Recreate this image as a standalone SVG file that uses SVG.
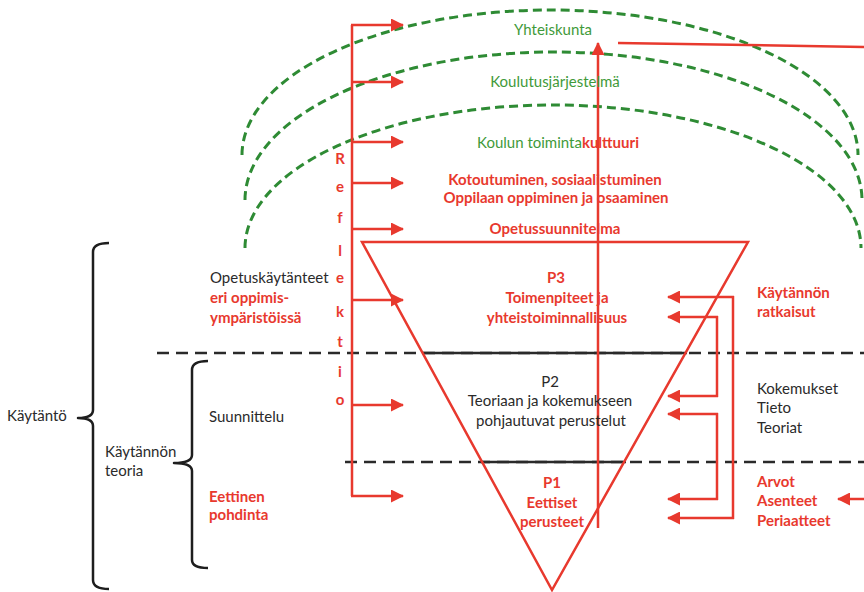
<svg xmlns="http://www.w3.org/2000/svg" width="864" height="592" viewBox="0 0 864 592">
  <style>
    .t { font-family: Lato, "Open Sans", "Liberation Sans", sans-serif; font-size: 15px; }
    .b { font-weight: bold; }
    .red { fill: #E8392E; }
    .grn { fill: #3F9A3A; }
    .blk { fill: #2A2A2A; }
    .arc { fill: none; stroke: #2E8B34; stroke-width: 3; stroke-dasharray: 9 5; }
    .rl { fill: none; stroke: #E8392E; stroke-width: 2.5; }
    .ra { fill: none; stroke: #E8392E; stroke-width: 2.5; marker-end: url(#ah); }
    .dash { fill: none; stroke: #2A2A2A; stroke-width: 2.5; stroke-dasharray: 12 7; }
    .solid { fill: none; stroke: #2A2A2A; stroke-width: 2.5; }
    .brace { fill: none; stroke: #1E1E1E; stroke-width: 2.5; stroke-linejoin: round; }
    .c { text-anchor: middle; }
  </style>
  <defs>
    <marker id="ah" viewBox="0 0 13 13" refX="12" refY="6.5" markerWidth="13" markerHeight="13" markerUnits="userSpaceOnUse" orient="auto">
      <path d="M0 0 L13 6.5 L0 13 Z" fill="#E8392E"/>
    </marker>
  </defs>

  <rect width="864" height="592" fill="#FFFFFF"/>

  <!-- nested spheres: society, school system, school culture -->
  <g id="spheres">
    <path class="arc" d="M242 155 A308 145 0 0 1 858 155"/>
    <path class="arc" d="M245 200 A308.5 148 0 0 1 862 200"/>
    <path class="arc" d="M245 248 A308 143 0 0 1 861 248"/>
  </g>

  <!-- level separators -->
  <g id="levels">
    <path class="dash" d="M157 353 H864"/>
    <path class="solid" d="M422 353 H687"/>
    <path class="dash" d="M345 462 H864"/>
    <path class="solid" d="M481 462 H626"/>
  </g>

  <!-- practice pyramid -->
  <g id="pyramid">
    <path class="rl" d="M362 242 H748 L552 590 Z" stroke-linejoin="miter"/>
  </g>

  <!-- left braces -->
  <g id="braces">
    <path class="brace" d="M109 243 Q93 243 93 252 V410 Q93 418 78 418 Q93 418 93 426 V580 Q93 589 109 589"/>
    <path class="brace" d="M208 361 Q192 361 192 370 V455 Q192 463 174 463 Q192 463 192 471 V560 Q192 568 208 568"/>
  </g>

  <g id="connectors">
    <!-- reflection spine with branches -->
    <path class="rl" d="M352 25 V496"/>
    <path class="ra" d="M351 25 H403"/>
    <path class="ra" d="M352 82 H403"/>
    <path class="ra" d="M352 142 H403"/>
    <path class="ra" d="M352 183 H403"/>
    <path class="ra" d="M352 229 H403"/>
    <path class="ra" d="M352 300 H403"/>
    <path class="ra" d="M352 405 H403"/>
    <path class="ra" d="M351 496 H403"/>
    <!-- central upward arrow -->
    <path class="ra" d="M598 528 V43"/>
    <path class="rl" d="M618 43 L864 47"/>
    <!-- right-side feedback arrows -->
    <path class="rl" d="M733 296 V519"/>
    <path class="ra" d="M734 297 H668"/>
    <path class="ra" d="M734 518 H668"/>
    <path class="rl" d="M717 316 V397"/>
    <path class="ra" d="M718 317 H668"/>
    <path class="ra" d="M718 396 H668"/>
    <path class="rl" d="M717 413 V500"/>
    <path class="ra" d="M718 414 H668"/>
    <path class="ra" d="M718 499 H668"/>
    <path class="ra" d="M864 499 H838"/>
  </g>

  <g id="sphere-labels">
    <text class="t grn c" x="553" y="35">Yhteiskunta</text>
    <text class="t grn c" x="555" y="87">Koulutusjärjestelmä</text>
    <text class="t grn c" x="558" y="148">Koulun toiminta<tspan class="red b">kulttuuri</tspan></text>
    <text class="t red b c" x="555" y="185">Kotoutuminen, sosiaalistuminen</text>
    <text class="t red b c" x="556" y="203">Oppilaan oppiminen ja osaaminen</text>
    <text class="t red b c" x="555" y="234">Opetussuunnitelma</text>
  </g>

  <g id="reflection-label">
    <text class="t red b c" x="340" y="164">R</text>
    <text class="t red b c" x="340" y="192">e</text>
    <text class="t red b c" x="340" y="223">f</text>
    <text class="t red b c" x="340" y="256">l</text>
    <text class="t red b c" x="340" y="283">e</text>
    <text class="t red b c" x="340" y="317">k</text>
    <text class="t red b c" x="340" y="347">t</text>
    <text class="t red b c" x="340" y="377">i</text>
    <text class="t red b c" x="340" y="405">o</text>
  </g>

  <g id="p3">
    <text class="t red b c" x="556" y="283">P3</text>
    <text class="t red b c" x="557" y="303">Toimenpiteet ja</text>
    <text class="t red b c" x="557" y="323">yhteistoiminnallisuus</text>
  </g>
  <g id="p2">
    <text class="t blk c" x="550" y="387">P2</text>
    <text class="t blk c" x="550" y="406">Teoriaan ja kokemukseen</text>
    <text class="t blk c" x="551" y="426">pohjautuvat perustelut</text>
  </g>
  <g id="p1">
    <text class="t red b c" x="552" y="488">P1</text>
    <text class="t red b c" x="552" y="508">Eettiset</text>
    <text class="t red b c" x="552" y="527">perusteet</text>
  </g>

  <g id="right-labels">
    <text class="t red b" x="757" y="298">Käytännön</text>
    <text class="t red b" x="757" y="317">ratkaisut</text>
    <text class="t blk" x="757" y="394">Kokemukset</text>
    <text class="t blk" x="757" y="413">Tieto</text>
    <text class="t blk" x="757" y="433">Teoriat</text>
    <text class="t red b" x="757" y="487">Arvot</text>
    <text class="t red b" x="757" y="506">Asenteet</text>
    <text class="t red b" x="757" y="526">Periaatteet</text>
  </g>

  <g id="left-labels">
    <text class="t blk" x="210" y="283">Opetuskäytänteet</text>
    <text class="t red b" x="210" y="303">eri oppimis-</text>
    <text class="t red b" x="210" y="323">ympäristöissä</text>
    <text class="t blk" x="209" y="422">Suunnittelu</text>
    <text class="t red b" x="209" y="502">Eettinen</text>
    <text class="t red b" x="209" y="520">pohdinta</text>
    <text class="t blk" x="105" y="457">Käytännön</text>
    <text class="t blk" x="105" y="476">teoria</text>
    <text class="t blk" x="7" y="421">Käytäntö</text>
  </g>
</svg>
